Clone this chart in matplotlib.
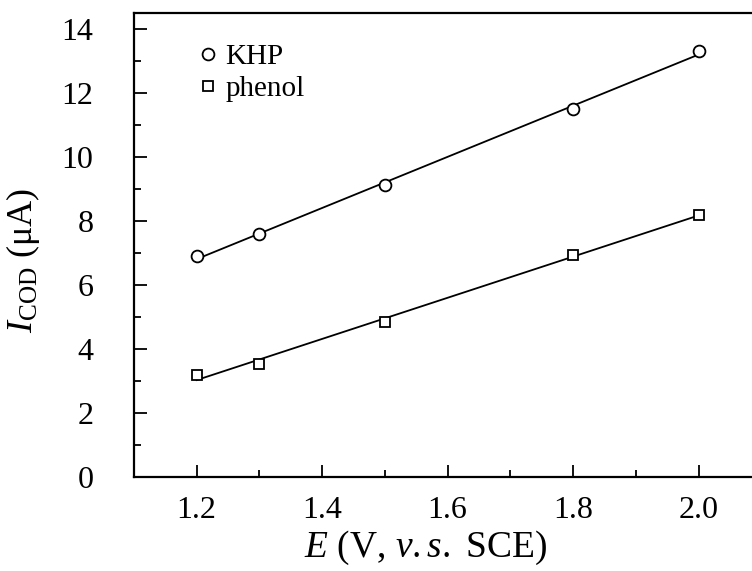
import numpy as np
import matplotlib
matplotlib.use('Agg')
import matplotlib.pyplot as plt
from matplotlib.ticker import MultipleLocator

plt.rcParams['font.family'] = 'Liberation Serif'
plt.rcParams['mathtext.fontset'] = 'custom'
plt.rcParams['mathtext.rm'] = 'Liberation Serif'
plt.rcParams['mathtext.it'] = 'Liberation Serif:italic'

# potentials (V vs SCE)
E = [1.2, 1.3, 1.5, 1.8, 2.0]
# currents (uA)
khp = [6.9, 7.6, 9.15, 11.5, 13.33]
phenol = [3.2, 3.55, 4.85, 6.95, 8.2]

fig = plt.figure(figsize=(7.52, 5.71), dpi=100)
ax = fig.add_axes([0.178, 0.1646, 0.8346, 0.8118])

xfit = np.array([1.2, 2.0])
for y, m, ms, lab in [(khp, 'o', 8.5, 'KHP'), (phenol, 's', 6.5, 'phenol')]:
    k, b = np.polyfit(E, y, 1)  # linear fit line
    ax.plot(xfit, k * xfit + b, color='black', lw=1.3, zorder=1)
    ax.plot(E, y, m, ms=ms, mfc='white', mec='black', mew=1.3, ls='none', label=lab, zorder=2)

ax.set_xlim(1.1, 2.1)
ax.set_ylim(0, 14.5)
ax.xaxis.set_major_locator(MultipleLocator(0.2))
ax.xaxis.set_minor_locator(MultipleLocator(0.1))
ax.yaxis.set_major_locator(MultipleLocator(2))
ax.yaxis.set_minor_locator(MultipleLocator(1))
ax.set_xticks([1.2, 1.4, 1.6, 1.8, 2.0])
ax.set_xticklabels(['1.2', '1.4', '1.6', '1.8', '2.0'])
ax.tick_params(which='major', direction='in', length=9, width=1.3, labelsize=23)
ax.tick_params(which='minor', direction='in', length=5, width=1.3)
ax.tick_params(axis='x', pad=14)
ax.tick_params(axis='y', pad=29)
for s in ax.spines.values():
    s.set_linewidth(1.6)

ax.set_xlabel(r'$E$ (V, $v{.}s{.}$ SCE)', fontsize=27)
ax.xaxis.set_label_coords(0.465, -0.112)
ax.set_ylabel(r'$I_{\rm COD}$ (μA)', fontsize=26)
ax.yaxis.set_label_coords(-0.147, 0.468)

ax.legend(loc='upper left', bbox_to_anchor=(0.085, 0.96), frameon=False, fontsize=21,
          handlelength=0.6, handletextpad=0.3, labelspacing=0.2, borderaxespad=0)

fig.savefig('out.png', dpi=100)
